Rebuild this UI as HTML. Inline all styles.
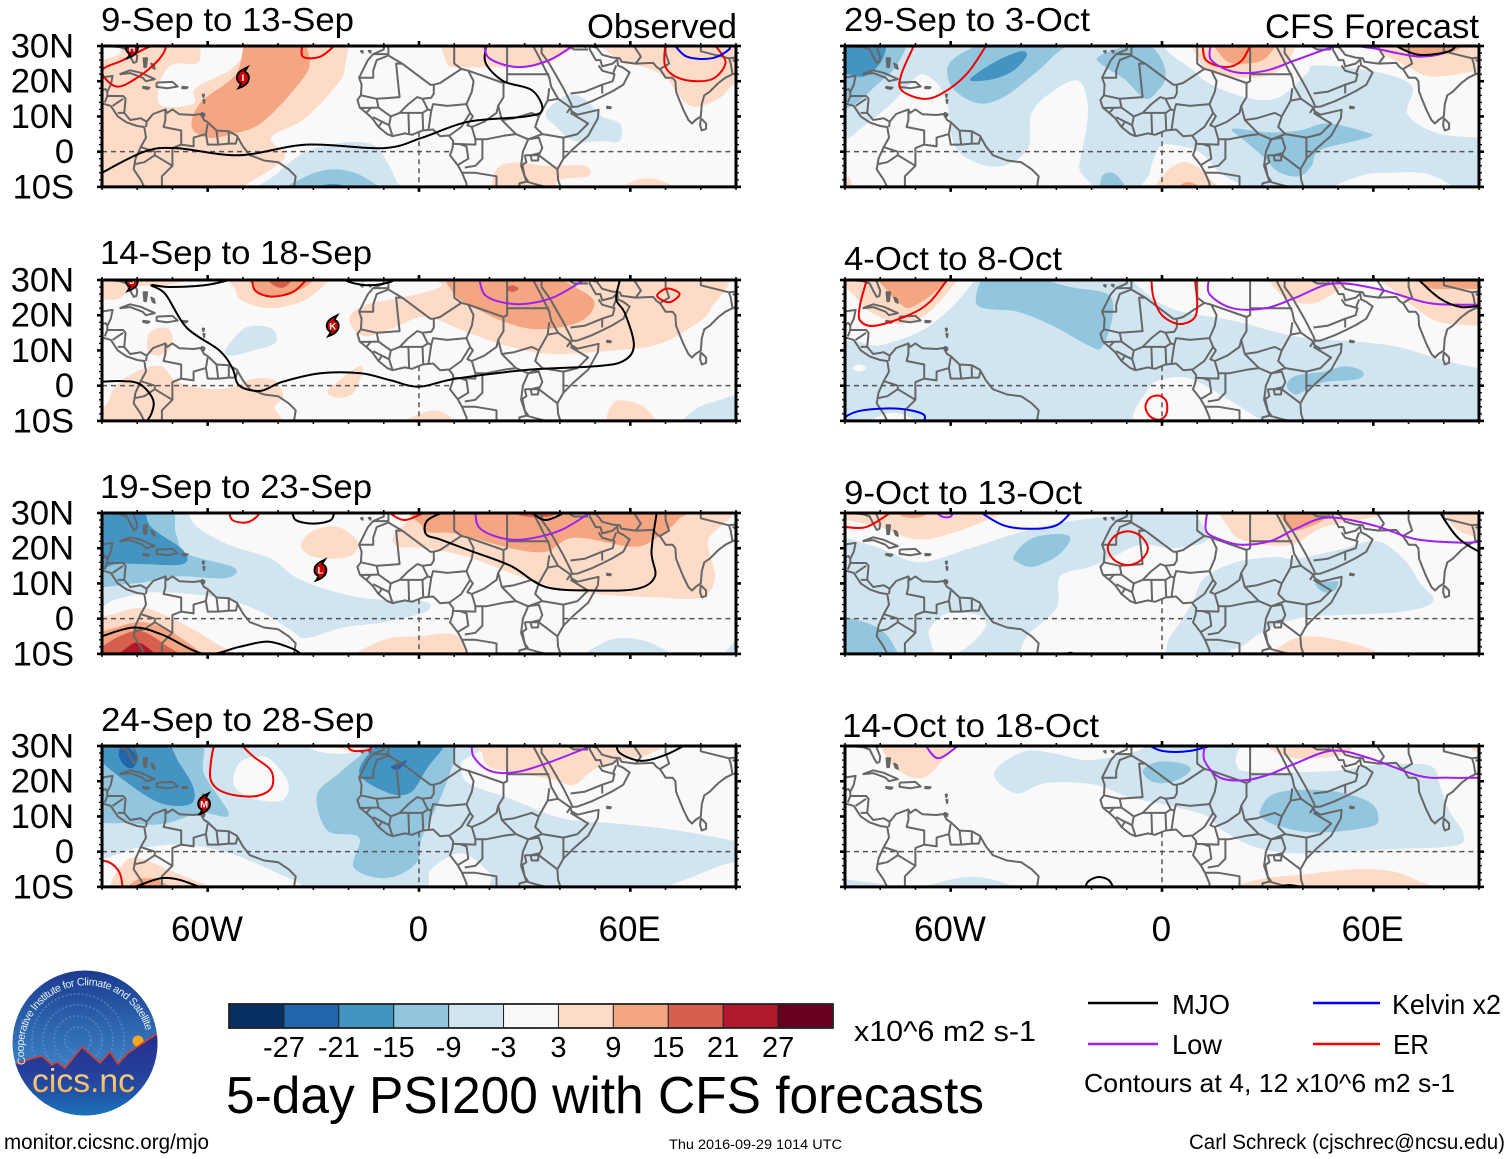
<!DOCTYPE html>
<html lang="en">
<head>
<meta charset="utf-8">
<title>5-day PSI200 with CFS forecasts</title>
<style>
html,body{margin:0;padding:0;background:#fff;width:1510px;height:1159px;overflow:hidden}
svg{display:block}
text{font-family:"Liberation Sans",sans-serif;fill:#000}
</style>
</head>
<body>
<svg id="chart" xmlns="http://www.w3.org/2000/svg" width="1510" height="1159" viewBox="0 0 1510 1159">
  <defs>
    <linearGradient id="logoSky" x1="0" y1="0" x2="0" y2="1">
      <stop offset="0" stop-color="#1c3a8e"/><stop offset="0.35" stop-color="#2c62ad"/><stop offset="0.62" stop-color="#3a7cc0"/>
    </linearGradient>
    <linearGradient id="logoGround" x1="0" y1="0" x2="0" y2="1">
      <stop offset="0" stop-color="#2a2b8e"/><stop offset="0.55" stop-color="#24459e"/><stop offset="1" stop-color="#1b78bd"/>
    </linearGradient>
    <linearGradient id="logoWord" x1="0" y1="0" x2="0" y2="1">
      <stop offset="0" stop-color="#fbe29a"/><stop offset="1" stop-color="#f3a94a"/>
    </linearGradient>
    <clipPath id="logoClip"><circle cx="85" cy="1043" r="72.5"/></clipPath>
    <path id="logoArc" d="M 26 1064 A 62 62 0 1 1 146 1031"/>
  </defs>
  <g id="panels"></g>

  <g id="colorbar"></g>
  <text x="854" y="1041" font-size="29" textLength="182" lengthAdjust="spacingAndGlyphs">x10^6 m2 s-1</text>
  <text x="226" y="1113" font-size="52" textLength="758" lengthAdjust="spacingAndGlyphs">5-day PSI200 with CFS forecasts</text>

  <g>
    <line x1="1088" x2="1158" y1="1003" y2="1003" stroke="#000" stroke-width="2.5"/>
    <text x="1172" y="1014" font-size="28" textLength="58" lengthAdjust="spacingAndGlyphs">MJO</text>
    <line x1="1313" x2="1380" y1="1003" y2="1003" stroke="#0000f0" stroke-width="2.5"/>
    <text x="1392" y="1014" font-size="28" textLength="109" lengthAdjust="spacingAndGlyphs">Kelvin x2</text>
    <line x1="1088" x2="1158" y1="1044" y2="1044" stroke="#a020f0" stroke-width="2.5"/>
    <text x="1172" y="1054" font-size="28" textLength="50" lengthAdjust="spacingAndGlyphs">Low</text>
    <line x1="1313" x2="1380" y1="1044" y2="1044" stroke="#f00000" stroke-width="2.5"/>
    <text x="1393" y="1054" font-size="28" textLength="36" lengthAdjust="spacingAndGlyphs">ER</text>
    <text x="1084" y="1092" font-size="26" textLength="371" lengthAdjust="spacingAndGlyphs">Contours at 4, 12 x10^6 m2 s-1</text>
  </g>

  <g>
    <g clip-path="url(#logoClip)">
      <rect x="12" y="970" width="146" height="146" fill="url(#logoSky)"/>
      <g fill="none" stroke="#7fa3d6" stroke-opacity="0.4" stroke-dasharray="2 2" stroke-width="2">
        <circle cx="78" cy="1040" r="13"/><circle cx="78" cy="1040" r="24"/><circle cx="78" cy="1040" r="35"/><circle cx="78" cy="1040" r="46"/>
      </g>
      <circle cx="138" cy="1041" r="5.5" fill="#f6a81f"/>
      <path d="M 10 1066 L 18 1063 L 37 1057 L 42 1056 L 52 1065 L 57 1062 L 65 1068 L 82 1047 L 100 1063 L 110 1052 L 118 1064 L 128 1053 L 155 1035 L 160 1033 L 160 1120 L 10 1120 Z" fill="url(#logoGround)" stroke="#d8402a" stroke-width="1.6"/>
    </g>
    <text font-size="10.8" style="fill:#e4edf7"><textPath href="#logoArc" textLength="200" lengthAdjust="spacing">Cooperative Institute for Climate and Satellites</textPath></text>
    <text x="32" y="1092" font-size="33" textLength="103" lengthAdjust="spacingAndGlyphs" style="fill:url(#logoWord)">cics.nc</text>
  </g>

  <text x="4" y="1149" font-size="21" textLength="205" lengthAdjust="spacingAndGlyphs">monitor.cicsnc.org/mjo</text>
  <text x="669" y="1149" font-size="14" textLength="173" lengthAdjust="spacingAndGlyphs">Thu 2016-09-29 1014 UTC</text>
  <text x="1189" y="1149" font-size="21" textLength="316" lengthAdjust="spacingAndGlyphs">Carl Schreck (cjschrec@ncsu.edu)</text>
</svg>

<script>
/* ---------- shared chart values ---------- */
const latTicks = [30, 20, 10, 0, -10];
const latTickLabels = ['30N', '20N', '10N', '0', '10S'];
const lonTicks = [-60, 0, 60];
const lonTickLabels = ['60W', '0', '60E'];
const colorbarColors = ['#053061','#2166ac','#4393c3','#92c5de','#d1e5f0','#f9f9f9','#fddbc7','#f4a582','#d6604d','#b2182b','#67001f'];
const colorbarLabels = ['-27','-21','-15','-9','-3','3','9','15','21','27'];
const panelTitles = ['9-Sep to 13-Sep','14-Sep to 18-Sep','19-Sep to 23-Sep','24-Sep to 28-Sep','29-Sep to 3-Oct','4-Oct to 8-Oct','9-Oct to 13-Oct','14-Oct to 18-Oct'];

/* background level of each panel (0 = neutral, -3 = light blue) */
const panelBase = [0, 0, 0, 0, -3, -3, -3, 0];

/* filled PSI200 regions: [level, lon, lat, lon, lat, ...] */
const fills1 = [
  [3, -95,35, -58,35, -24,35, -21,24, -25,17, -33,9, -42,4, -38,-1, -42,-5, -50,-10, -55,-15, -95,-15],
  [0, -73,13, -74,18, -72,23, -69,25, -63,25, -62,29, -62,33, -49,33, -49.5,28, -54,23, -63.5,18, -64,13.6],
  [0, -92,33, -84,33, -85,28, -90,26, -92,26],
  [9, -48,33, -35,33, -31,25, -36,17, -45,8, -53,5, -60,4, -64.5,7, -62,14, -52,22],
  [3, 12,24, 8,25, 10,33, 45,33, 40,27, 32,24, 22,24],
  [3, 57,26, 53,33, 95,33, 95,18, 90,19.5, 85,15, 77,13, 70,21, 64,24],
  [-3, 42,16, 47,15, 52,10, 57,8, 57,3, 52,3, 44,3, 39,7, 36,11],
  [-3, -44,-12, -40,-6, -32,0, -22,2.5, -13,2, -9,-3, -6,-9, -4,-12],
  [-9, -38,-12, -32,-7, -24,-5, -16,-7, -12,-12],
  [-15, -31,-12, -27,-9.5, -22,-9.5, -19,-12],
  [3, 22,-12, 22,-5, 28,-3, 36,-4, 47,-4, 48,-7, 40,-8, 36,-12],
  [3, 56,-12, 62,-8, 68,-8, 74,-12]
];
const fills2 = [
  [3, -19.5,20, -15,23, -5,25, 6,28, 10,33, 82,33, 83,22, 75.5,15.5, 67,11.5, 55.5,10, 38,9, 26,11, 14,15, 2,19.5, -7,16.5, -15,14, -19,16.5],
  [9, 10,33, 10,26, 18,21, 26,17.5, 34,16, 44,17.5, 49,21, 49,25, 41,30, 40,33],
  [15, 24.8,27.5, 26.5,28.5, 28.3,27.5, 26.5,26.6],
  [3, -53,33, -52,27, -50,24, -42.5,22, -33,24, -26.5,29, -25,33],
  [9, -48,33, -46,27, -42,25.5, -36,26.5, -31,29, -30,33],
  [15, -43,33, -42,29, -38,28, -35,33],
  [3, -95,33, -95,26, -86,24.5, -81,28, -72,28.5, -66,30, -66,33],
  [3, -77,10, -76.5,15, -72,16.5, -70,14, -71,10, -74,8.5],
  [3, -88,-12, -88,-4, -85,1, -79,4.5, -73,5.5, -68.5,1, -58,-1, -52,0, -47,2, -41,1.5, -38.5,-3, -41,-6, -42.5,-12],
  [3, -26,-1.5, -22,2, -17,5.5, -16,4, -18,-1, -20,-3, -24,-3.3],
  [3, -4,-12, -3,-9.5, 4,-7, 9,-9, 10,-12],
  [3, 54,-12, 55,-5, 60,-4.5, 65,-7, 67,-12],
  [-3, -55,10, -50,16, -45,17, -41,15.5, -41,12, -47,10, -53,8.5],
  [-3, 75,-12, 78,-7, 84,-4.5, 92,-3, 92,-12],
  [-3, -18,33, -16,29, -13,33]
];
const fills3 = [
  [-3, -95,33, -70,33, -63,26, -54,21, -42,17, -33.5,11, -17,6, 1,5, 2,2, -10,-1, -21.5,-2.5, -32,-5.5, -36,-3.5, -45,2, -57,6, -75,7.5, -86,5.5, -95,3],
  [-9, -95,33, -72,33, -69,24, -66,18.5, -52.5,14.5, -55,11.5, -69,12, -81,10, -95,11],
  [-15, -95,33, -80,33, -76,26, -67,19.5, -67,15.5, -78,15.5, -86,15.5, -95,14],
  [3, -95,-12, -95,-2, -86,1.5, -78,3, -69,-0.5, -58.5,-6.5, -53,-12],
  [9, -95,-12, -95,-6, -86,-2.5, -78,-1, -69,-4.5, -63,-12],
  [15, -95,-12, -90,-8, -85,-5, -79,-3.5, -72,-7.5, -68,-12],
  [21, -86,-12, -82,-7.5, -79,-7, -75,-10, -75,-12],
  [3, -18,-12, -10,-6, 0,-5, 10,-4.5, 14,-10, 14,-12],
  [3, -7,24, 0,30, 5,33, 84,33, 82,22, 84,11.5, 80,6, 68,6, 50,7, 38,9, 26,13, 14,17.5, 2,20, -6,20.5],
  [9, 3,33, 1,26, 3,24.5, 11,24, 26,20, 36,19, 44,23, 60,20.5, 66,22, 73.5,28, 74,33],
  [15, 26,33, 28,29.5, 37,29, 42,33],
  [3, -33.5,21, -30,25, -23,26, -17.5,22, -19,18, -25,17, -31,18],
  [-3, 47,-12, 52,-7, 58,-5.5, 66,-7, 72,-12],
  [-3, 86,-12, 90,-6, 93,-6, 93,-12]
];
const fills4 = [
  [-3, -95,33, 12,33, 12,25, 14,19.5, 26,15, 40.5,9.5, 56,8, 73.5,6, 90,3, 97,2, 97,-8, 90,-3, 74,-8.5, 62,-12, 24,-12, 20,-6, 12,-0.5, 3.5,-5, 0,-12, -26,-12, -36,-8, -47,-3, -57,0.5, -69,2, -80,1, -95,0],
  [0, -33,33, -33,31, -28,28.3, -20,28, -14,31, -14,33],
  [0, -52.5,22, -50,26, -44,27, -40,24, -37,19, -39,14.5, -47,15, -52,18],
  [3, 17,33, 18,28, 20,24, 30,22, 38,20.5, 44,19, 50,23.5, 58,26, 66,28, 70,33],
  [-9, -95,33, -64,33, -61,22, -54,10.5, -62,11, -72,8, -81,8, -95,11],
  [-15, -92,33, -74,33, -68,25, -64,18, -65,13.5, -74,14, -86,22, -92,28],
  [-21, -85,29, -83,30, -80,27, -81,24, -83,24, -85,26.5],
  [-9, -29,16, -26,6, -17,4, -18.5,-4.5, -9.5,-7.5, -1,-3.5, 1,4.5, 6,15, 10,27, 8,33, -9,33, -17,27, -23,22],
  [-15, -17,23, -9.5,17, -2.5,16.7, 2.5,24, 7,30, 5,33, -8,33],
  [-21, -8,24, -6,25, -3.5,26, -4,25, -6,23.3],
  [3, -85,-12, -84,-3.5, -79,-2, -69,-6, -60,-9.5, -50,-12],
  [9, -83,-12, -80,-8, -74,-8, -70,-12],
  [3, -28,33, -28,31, -20,29, -15,31, -15,33]
];
const fills5 = [
  [0, -90,-12, -95,2, -89.5,3.5, -85,7, -77,13.5, -72.7,18, -68.5,22, -64,19.5, -61,14, -59,2, -53,-3, -45,-4, -38,1, -37,11, -30.5,17.5, -23.5,20, -21,11.5, -23.5,-4, -25,-12],
  [0, 7,33, 9.5,22.5, 20,16.5, 32,15, 41,22, 44,24.5, 61.5,22.5, 71,18.5, 69.7,10.7, 78,5.3, 90,4, 97,4, 97,33],
  [0, -4,-12, -3.5,-6, -1,1, 2.5,2, 10.5,0, 16.5,-6, 24,-12],
  [0, 48,-12, 56,-7, 65,-6, 76,-6.5, 82,-12],
  [-9, -61,23, -59,26.5, -53,30, -48,33, -26,33, -31,27, -37,21.5, -45,15.5, -52,13.7, -59,17.5],
  [-15, -54.5,20.5, -47,25.7, -40,28.5, -38.5,27, -42.5,22.8, -48.5,20.5],
  [-9, -95,33, -74,33, -75,25, -81.5,18.5, -88,13, -95,12],
  [-15, -95,33, -80,33, -79,27, -84,21.5, -90,22, -95,21],
  [-9, -18,27, -10,30, -4,30.5, 0,26, 1,21, -1,17.5, -4.7,15, -10.6,20.5, -17,24.7],
  [-9, 20,6.5, 30,5.5, 39,6, 47,8, 58,5.5, 58.5,4, 45,0.5, 42.5,-4, 39,-7, 33,-5.7, 28.3,-1, 23.6,3],
  [-9, -17,-12, -17,-7, -14,-6, -11,-9, -10.5,-12],
  [3, 10,33, 10.6,26, 15,22, 26,21, 32,22.5, 36,26, 36,33],
  [9, 15,33, 18,26, 23.6,25, 29.5,26.6, 32,33],
  [3, 60,33, 61,29, 70,24, 77,21.3, 90,23, 97,24, 97,33],
  [9, 66,33, 70,28, 76,27, 84,29, 86,33],
  [3, -1,-12, 1,-6, 6,-3, 11,-5, 15,-9, 19,-12],
  [9, 4,-12, 6,-9, 9,-9, 12,-12],
  [3, -92,-12, -89,-7, -88,-12],
  [3, -45,-12, -40,-9.7, -36,-12]
];
const fills6 = [
  [0, -95,33, -52,33, -54,29, -60,22, -68.5,15.5, -80,11.5, -86,12.5, -95,15],
  [0, -8,33, -8,29.5, 2.4,22, 20,18.5, 38,14, 55.5,12.5, 67,11, 79,7.5, 90,5, 97,5, 97,33],
  [0, -6,-12, -4,-1, 1,2, 8,2, 16.5,-2.5, 26,-8.5, 30,-12],
  [0, -88,5, -86,6, -84,5, -86,4],
  [0, -85,-12, -80,-8.5, -74,-8, -68,-12],
  [-9, -49,33, -52.5,23, -41,21, -31,17, -21,11.5, -17,11, -14,20, -15.5,26, -26,28, -36,31, -38,33],
  [-9, 35.4,0, 38,2.8, 46,4, 52,5.5, 57,4, 55.5,1.8, 46,1, 41.3,-1, 37.8,-2.5],
  [3, -90,33, -85,23, -80,19.5, -74,17.5, -66,21, -58,30, -56,33],
  [9, -81,33, -78,27, -74,23, -71,22.3, -64,27, -60,33],
  [3, 30,33, 31,29, 35.4,24.7, 42.5,23.3, 48.4,26, 54,30, 57,33],
  [3, 61,33, 66,27, 73,21.3, 79,18, 90,17, 97,17, 97,33],
  [9, 72,33, 75,28, 84,27.5, 92,28, 92,33]
];
const fills7 = [
  [0, 9,33, 97,33, 97,-12, 22,-12, 24,-7, 32,-2, 41,0.5, 50,1, 68.5,2, 77,5, 73,10.5, 68.5,17, 61,22, 50,19.5, 38,17, 32,17.5, 21,16, 12,11.5, 8.3,4, 2.4,-5, -3.5,-12, -36,-12, -39,-6, -30,3, -29,12, -21,14.5, -15,17, -6,21, 3.5,20, 13,22.5, 9.4,30],
  [0, -95,33, -5,33, -9,30, -27,27.5, -42,24, -56,19.5, -69,16, -80,20, -90,23, -95,24],
  [0, -66,-3, -61,1.5, -52,1, -50,-2, -54,-7, -59,-10, -64,-10, -65.5,-7],
  [-9, -42,18, -37.5,22.5, -31,24, -26,23, -29.5,18, -36.6,14.7, -41,16],
  [-9, -95,-12, -95,0, -88,0, -80,-3, -76,-8, -76,-12],
  [-9, 43.7,10.5, 47,10.5, 50,10.5, 49,8, 46,7.5, 44,9],
  [3, -95,33, -93,29, -80,26, -69.5,22.5, -59,24.5, -45,30, -42,33],
  [9, -75,33, -74,29.2, -68,29, -65,33],
  [3, 20,33, 19.5,25, 25,21.7, 36.6,21, 46,26, 62.5,29.5, 64,33],
  [9, 34,33, 35,27, 38,25, 44,27, 47,29, 52,33],
  [3, 81,33, 83,26, 90,23, 97,23, 97,33],
  [3, 32,-12, 35,-7, 42,-5, 52,-6.5, 60,-9, 64,-12]
];
const fills8 = [
  [-3, -46.6,24, -39,28.5, -31,28, -21,26, -9,28, -4.7,30, -5,33, 20,33, 21,25, 26,22.6, 49.6,23, 59,24.5, 75.7,24.5, 79,18.5, 81.5,11.7, 85.6,5, 82.6,1.6, 61.4,0.6, 38,-0.5, 26,1.5, 16.5,6.5, 13,10, 2.4,13, -9.4,15.5, -19,19, -33,19.5, -41,16.5, -47,20.3],
  [-9, -5.5,23, -1,25.5, 6,25, 8,23, 3.5,20, -2.4,19.7],
  [-9, 28,12, 31,16, 38,17.5, 49.6,17, 59,14, 61.4,9.7, 59,7, 43.7,5.4, 33,7.3, 28.3,9.7],
  [3, -82,33, -80,30, -76.6,24.5, -70.7,21, -66,22, -60,29, -58,33],
  [3, 29.5,33, 30,30, 35,27, 43,26.5, 52,28, 55,33],
  [3, 88,33, 88,29, 93,28, 93,33],
  [-3, -95,-12, -95,-7.5, -85,-8.5, -70,-10, -58,-7.5, -50,-7.5, -41,-10.3, -40,-12],
  [3, 21,-12, 27,-8, 40,-6.5, 55,-5, 65,-5.5, 72,-8, 76,-12]
];
const panelFills = [fills1, fills2, fills3, fills4, fills5, fills6, fills7, fills8];

/* wave contours: [kind, closed (1/0), lon, lat, ...] */
const waves1 = [
  ['mjo',0, -92,-7.5, -90,-6, -78,0, -69,1, -51,-1, -32,2, -10,1, 1,4, 14,8.5, 30.5,10, 35,12, 32,17.5, 24,20, 19,25, 19,30, 19,33],
  ['er',1, -90,23, -86,18.5, -80,21, -74,26, -72,30, -76,30, -84,26],
  ['er',0, -33,31, -33,27, -28,27, -23,31],
  ['er',0, 70,31, 70,24, 75,20.5, 83,20.5, 87,25, 85,29, 83,31],
  ['kelvin',0, 72,31, 76,27, 83,26.5, 88,29, 88,31],
  ['low',0, 18.5,31, 20,26.5, 28,24, 37,26, 45,31]
];
const waves2 = [
  ['mjo',0, -52,31, -54,30, -61,28.5, -71,28, -76,28.5, -72,26, -66,16.5, -56.7,10, -53,5, -51,0, -45,-1.5, -39,1, -28,3.5, -16.5,3.5, -8,1.5, 0,-0.3, 10.5,2, 31,4.5, 50,5.5, 58,7, 61,11.5, 58.5,20.5, 56,24.5, 57,30, 57,32],
  ['mjo',0, -22,31, -20,29.5, -14,28.5, -8,29.5, -6,31],
  ['mjo',0, -92,1, -84,1.3, -79,0.3, -75.5,-4, -76,-8, -78,-11],
  ['er',0, -47.5,31, -46.5,27, -42,25.3, -36,26.5, -32,30, -31,31],
  ['er',1, 67.6,25.5, 70.5,27.6, 74,26, 71,23.7],
  ['low',0, 17,31, 18.5,26, 23,23.8, 30,23.2, 38,25, 46,29.5, 48,31]
];
const waves3 = [
  ['mjo',0, 9,31, 2.5,28, 2,24, 6,22.5, 14,19.5, 26,15, 36,9, 50,8, 62,8.5, 67,12, 66,19, 67.5,30, 68,32],
  ['mjo',0, -36,31, -35,28, -30,27, -25,28, -24,31],
  ['mjo',0, 31,31, 36,28, 43,31],
  ['mjo',0, -92,-6, -90,-5, -81,-2.5, -73,-4.5, -61,-10, -51,-8, -43,-6.5, -36,-8.5, -33,-10.5, -32,-12],
  ['er',0, -54,31, -53,28, -49,27.3, -46,29, -45,31],
  ['er',0, -9,30.5, -4,28, 3,31],
  ['low',0, 16,31, 17,26, 23,23, 30,22.5, 40,25, 48.5,30, 50,31]
];
const waves4 = [
  ['er',0, -58,31, -59,26, -59,20, -55,16.7, -47,15.7, -42,18, -42,23, -47,27, -50,30, -50,31],
  ['er',0, -92,-2.3, -88,-3, -85,-6, -84,-11],
  ['er',0, -21,31, -19,28.7, -14,29, -13,31],
  ['mjo',0, -83,-11, -78,-9, -73,-7.5, -68,-8, -61,-10.5],
  ['mjo',0, 56,31, 57,28, 63,25.8, 70,27.5, 77,31],
  ['low',0, 15,31, 15.5,27, 20,23, 27,22.5, 36,25, 49,30, 52,31]
];
const waves5 = [
  ['er',0, -70.5,31, -70.5,30, -74,22, -74,17.5, -68,15, -62.5,16.5, -55.5,22, -50,30, -49.5,31],
  ['er',0, 11.5,31, 12.5,26, 18,24, 22.5,25.7, 25,30, 25.5,31],
  ['low',0, 14,31, 14,26, 21,22.5, 29.5,23, 38,26, 50,30, 59,29.5, 73,27, 81.5,28.5, 84,31],
  ['mjo',0, 66,31, 66.5,30, 73,27.5, 81.5,28.5, 84,31]
];
const waves6 = [
  ['er',0, -84,31, -84,29.5, -85.7,23, -85.7,18.5, -81.5,17, -72,20, -66,23.7, -61,30, -60,31],
  ['er',0, -3,31, -3,30, -2.4,25, 0,20, 4.7,17.5, 9,19, 10,23, 9.4,30, 9.4,31],
  ['er',1, -4.7,-6, -3.5,-3.5, -1,-2.8, 1,-4, 1.5,-6.2, 1,-8.5, -1,-9.7, -3.5,-8.6],
  ['kelvin',0, -90,-11, -90,-9, -85,-7, -75,-6.5, -68,-8, -67.5,-10, -68,-11],
  ['low',0, 13.5,31, 13.5,26, 20,22, 29.5,22, 38,25, 48.4,29, 61,27.5, 75.5,23.5, 85,23, 92,23],
  ['mjo',0, 73,31, 73,30, 79,24.7, 85,22.3, 92,23]
];
const waves7 = [
  ['er',0, -92,27, -89.5,26, -84,26, -78,29.5, -77,31],
  ['er',1, -15.4,20, -13.5,23.4, -9.7,24.8, -6,23.4, -4,20, -6,16.6, -9.7,15.2, -13.5,16.6],
  ['low',0, -65,31, -62.5,29, -60,29, -59,31],
  ['kelvin',0, -52,30.5, -45,26.5, -37,25.5, -30,26.5, -26,30, -25.5,31],
  ['low',0, 13,31, 12.5,25, 16.5,22.5, 22.5,21, 30.7,22, 38,25.5, 47,28.7, 60,26.5, 72,22.6, 85,21.6, 92,22],
  ['mjo',0, 79,31, 79,30, 84,23, 90,19, 93,18],
  ['mjo',0, -28,-10.5, -26,-9.7, -24,-10.5]
];
const waves8 = [
  ['low',0, -67,31, -67,30, -63.5,26.5, -58,30, -57,31],
  ['kelvin',0, -5,31, 0,28.6, 8,28.6, 17,31],
  ['low',0, 12.4,31, 12,26, 16.5,21, 23.6,20.3, 30.7,22, 37.8,25, 48.4,28.7, 59,26.5, 73,21.5, 81.5,21, 92,21],
  ['mjo',0, -22,-11, -21,-8.5, -18,-7.2, -15,-8.2, -13.5,-11],
  ['mjo',0, 31,-11, 36,-9.5, 44,-11]
];
const panelWaves = [waves1, waves2, waves3, waves4, waves5, waves6, waves7, waves8];

/* tropical cyclones: [letter, lon, lat] per panel */
const panelStorms = [
  [['H',-81.5,29.5], ['I',-50,21]],
  [['J',-81.5,29.8], ['K',-24.5,17]],
  [['L',-28,13.8]],
  [['M',-61,13.6]],
  [], [], [], []
];

/* map outlines in lon/lat */
const coastlines = [
  [-92,29.5,-89,30,-85,29.7,-83,29,-82,27,-81,25.2,-80.2,25.5,-80,27,-81,29.5,-81.5,31],
  [-92,18.5,-90.5,19.5,-90.3,21,-87,21.5,-87.5,19,-88.5,17,-88.5,15.8,-84,15.8,-83.3,15,-83.7,11,-82,9,-80,9.3,-79,9.5,-77.3,8.5,-75.5,10.7,-72,12,-71.5,11,-70,12,-68,10.6,-64,10.4,-62,10.7,-61,9,-60,8.4,-57.5,6,-54,5.8,-51.7,4.5,-50,1.5,-48,-1,-44,-2.5,-40,-3,-37,-5,-35,-7,-35.5,-10,-36,-11],
  [-94,16,-91,14,-87.5,13,-85.5,10,-83,8.3,-80,7.3,-78,7,-77.5,4,-79,1.3,-80.5,-2,-81,-5,-79,-8,-77.5,-11],
  [-10,31,-10,29,-13,27.7,-14.5,26,-17,21,-16.3,19,-16.5,16,-17.5,14.7,-16.8,12.5,-15,11,-13.3,9.5,-11.5,7,-9,5,-7.5,4.4,-4,5.2,-2,4.8,1,6,4,6.3,6,4.4,8.5,4.6,9.7,3,9.5,1,8.8,-1,11,-3.8,12.2,-6,13.5,-9,13.5,-11],
  [32.5,31,32.5,29.8,34,27,35.5,24,37,21,37.5,18.5,39.5,15,43,12.5,43.3,11.5,45,10.5,51,11.9,50.8,9.5,48,4.5,44,1,41,-2,39.3,-5,39.5,-8,40.5,-11],
  [34.8,31,34.8,28,37,25,39,21.5,41,18,43,14,43.5,12.7,45,12.8,49,14.3,52,15.7,55,17.2,58,19,59.8,22.5,58,23.8,56.5,24.5,56.3,26.2,55,25,52,24.2,51.5,26,50.2,26,48.5,29,48.5,31],
  [48.5,30,50.5,29.5,52,27.5,55,26.7,57,26.5,57.5,25.5,61.5,25,66.5,25.2,67.5,24,68.5,23.3,70,21,72,21,72.8,20,73,17,74,14.5,75,12,76.5,9,77.5,8,78.5,9,80,10,80.3,13.5,81,16,82.5,17,85,19.5,87,21,89,22,91,22.5],
  [80,9.5,81.5,8,81.5,6.5,80.3,6,79.8,7.5,80,9.5],
  [31.7,-1,34,-0.5,33.8,-2.5,32,-2.5,31.7,-1],
  [-85,22,-82,23.1,-79,22.4,-75,20.6,-77.5,20,-78.5,21,-82,22.3,-85,22],
  [-74.5,19.6,-70,19.8,-68.5,18.5,-71.5,18,-74.5,18.4,-74.5,19.6]
];
const islands = [
  [-78.3,18.4,-76.5,18.2,-77,17.8,-78.3,18.1,-78.3,18.4],
  [-67.2,18.4,-65.7,18.3,-66,18,-67.2,18,-67.2,18.4],
  [-78.2,26.5,-77.2,26.5,-77.5,24,-78,24,-78.2,26.5],
  [-76,25,-75.3,24.6,-75,23.5,-75.6,23.8,-76,25],
  [-61.4,16.2,-61,16.2,-61.2,15.5,-61.4,16.2],
  [-61.2,14.7,-60.9,14.7,-61,13.8,-61.2,14.7],
  [-61.6,11,-60.9,10.7,-61,10.1,-61.7,10.2,-61.6,11],
  [-16.5,28.5,-16,28.6,-16,28.1,-16.5,28.5],
  [-14.3,28.6,-13.7,28.6,-13.8,28.1,-14.3,28.6],
  [53.4,12.8,54.5,12.6,54.3,12.3,53.4,12.4,53.4,12.8]
];
const borders = [
  [-92,15,-91,17,-89,17.8,-88.5,17],[-89.2,14,-88.5,15.8],[-87,13,-84,15],[-85.5,11,-83.7,11],[-77.3,8.5,-77.5,7],
  [-72,12,-72,9,-72.5,7,-67.5,6,-67.5,2,-70,1,-70,-4],[-67.5,2,-64,1.5,-64,4,-60.5,5,-60,8],
  [-60.5,5,-60,2,-57,2,-57.5,6],[-57,2,-54,2.3,-54,5.5],[-54,2.3,-52,2.3,-51.5,4.2],
  [-79,1.3,-75,0,-75,-1,-70,-4,-73,-7,-73,-10,-70,-11],[-80.5,-3.5,-78,-3,-75,-1],
  [-13,27.7,-8.7,27.7,-8.7,31],
  [-17,21,-13,21,-13,23,-12,26,-8.7,27.3,-4.8,25,-6.5,25,-5.5,15.5,-12,15,-16.5,16],
  [-4.8,25,3.2,19,4.2,19,4.2,16.5,3.5,15.3,1,15,-0.5,15.5,-3,13.5,-5.5,11,-8,10,-8.5,7.5,-7.5,4.4],
  [-12,15,-11.5,12.5,-8,10],[-16.7,12.4,-11.5,12.5],[-15,11,-13.7,12.4],[-13,9.8,-10.5,8.5,-11.5,7],[-10.5,8.5,-8.5,7.5],
  [-5.5,11,-3,11,1,11,2.5,12,3.5,11.7,2.7,6.3],[-3,11,-2.8,5],[1,11,1.2,6.2],[1,15,2.5,12],
  [4.2,19,6,19.5,12,23.5,14,23,24,19.5,25,20,25,31],[12,23.5,10,25,10,31],[25,22,37,22],
  [3.5,11.7,4,13.5,8,13,13.5,13.5,14.5,11,12,7,8.7,4.6],[14,23,15.5,20,15,17,13.5,13.5],
  [14.5,11,15.3,10,13.7,7.5,15,7,16,3.5,16,2,9.8,2.2],
  [24,19.5,24,15.5,22.5,13,23.5,9,27.5,5,31,3.5,29.5,0,29,-4,30.5,-8.5,28.5,-9,28.5,-11],
  [15,7,18.5,8.5,22,11,22.5,13],[16,3.5,19,3.5,24,4.5,27.5,5],[11.5,2.2,13.5,1.5,14,-2,11,-3.8],
  [13,-4.5,16,-4,18,-2,18,3.5],[12.2,-6,16,-6,22,-7,22,-11],
  [23.5,9,27,9.5,32,11,34,10,33,7,35,5,31,3.5],[37,18,36.5,14.5,34,10],[35,5,41,4,41,-2],
  [31,3.5,34,4,35,1,34,-1,30,-1],[34,-1,39.3,-5],[30.5,-8.5,34,-9.5,40.5,-11],[29,-4,30.5,-3,30,-1],
  [39.5,15,36.5,14.5],[42,11,43,12.5],[41,4,45,5,48,8,43,11],[29.3,-3.5,30,-7,31,-8.5],
  [39,32,44,29,48,29],[43,16.5,47,17,52,19,55,20,55.5,22,52,23,51,24.5],[52,16.5,52,19],[56,24.5,55,22],[48.5,31,47,29.5],
  [61.5,25,63,27,61,30,61,32],[70,32,70,28,71,25,68.5,23.5],[80,31,80,28.5,84,27.5,88,26.5,92,27],[88,26.5,88.5,25,89,22],[89,26,92,25,92,21],[65,32,61,30],[71,32,70,30],[78,32,79,30.5,80,30.5]
];

/* ---------- layout constants ---------- */
const SVGNS = 'http://www.w3.org/2000/svg';
const PANEL_W = 634, DEG = 3.5222, PANEL_H = 40 * DEG;
const panelLefts = [102, 102, 102, 102, 845, 845, 845, 845];
const panelTops = [46, 280, 513, 746, 46, 280, 513, 746];
const titleBaselines = [31, 264, 498, 731, 31, 270, 504, 737];
const titleStarts = [101, 100, 100, 101, 844, 844, 844, 842];
const titleWidths = [253, 272, 272, 273, 246, 218, 238, 257];
const levelColors = {'0':'#f9f9f9','3':'#fddbc7','9':'#f4a582','15':'#d6604d','21':'#b2182b','-3':'#d1e5f0','-9':'#92c5de','-15':'#4393c3','-21':'#2166ac'};
const waveColors = {mjo:'#000000', er:'#f00000', low:'#a020f0', kelvin:'#0000f0'};

function make(tag, attrs, parent) {
  const el = document.createElementNS(SVGNS, tag);
  for (const k in attrs) el.setAttribute(k, attrs[k]);
  if (parent) parent.appendChild(el);
  return el;
}
function pairs(flat, start) {
  const out = [];
  for (let i = start; i + 1 < flat.length; i += 2) out.push([flat[i], flat[i + 1]]);
  return out;
}
function smoothPath(pts, closed) {
  const n = pts.length;
  const at = i => closed ? pts[(i + n) % n] : pts[Math.max(0, Math.min(n - 1, i))];
  let d = 'M' + pts[0][0].toFixed(1) + ' ' + pts[0][1].toFixed(1);
  const last = closed ? n : n - 1;
  for (let i = 0; i < last; i++) {
    const p0 = at(i - 1), p1 = at(i), p2 = at(i + 1), p3 = at(i + 2);
    d += 'C' + (p1[0] + (p2[0] - p0[0]) / 6).toFixed(1) + ' ' + (p1[1] + (p2[1] - p0[1]) / 6).toFixed(1) + ' '
      + (p2[0] - (p3[0] - p1[0]) / 6).toFixed(1) + ' ' + (p2[1] - (p3[1] - p1[1]) / 6).toFixed(1) + ' '
      + p2[0].toFixed(1) + ' ' + p2[1].toFixed(1);
  }
  return d + (closed ? 'Z' : '');
}

const svg = document.getElementById('chart');
const root = document.getElementById('panels');
const defs = svg.querySelector('defs');

panelTitles.forEach(function (title, p) {
  const left = panelLefts[p], top = panelTops[p];
  const xScale = lon => left + (lon + 90) * DEG;
  const yScale = lat => top + (30 - lat) * DEG;
  const toPx = pt => [xScale(pt[0]), yScale(pt[1])];

  const clip = make('clipPath', {id: 'clip' + p}, defs);
  make('rect', {x: left, y: top, width: PANEL_W, height: PANEL_H}, clip);

  const g = make('g', {}, root);
  
  

  const plot = make('g', {'clip-path': 'url(#clip' + p + ')'}, g);
  
  

  const bg = make('rect', {x: left, y: top, width: PANEL_W, height: PANEL_H, fill: levelColors[panelBase[p]]}, plot);
  
  

  panelFills[p].forEach(function (shape) {
    const path = make('path', {d: smoothPath(pairs(shape, 1).map(toPx), true), fill: levelColors[shape[0]]}, plot);
    
    
  });

  /* coastlines + borders */
  const map = make('g', {fill: 'none', stroke: '#666666', 'stroke-width': 2, 'stroke-linejoin': 'round'}, plot);
  
  
  coastlines.concat(borders).forEach(function (line) {
    const seg = make('polyline', {points: pairs(line, 0).map(toPx).map(q => q[0].toFixed(1) + ',' + q[1].toFixed(1)).join(' ')}, map);
    
    
  });
  islands.forEach(function (line) {
    const isle = make('polygon', {points: pairs(line, 0).map(toPx).map(q => q[0].toFixed(1) + ',' + q[1].toFixed(1)).join(' '), fill: '#666666'}, map);
    
    
  });

  /* reference lines */
  const dash = {stroke: '#555555', 'stroke-width': 1.5, 'stroke-dasharray': '5 4'};
  const eqWest = make('line', Object.assign({x1: xScale(-90), x2: xScale(9), y1: yScale(0), y2: yScale(0)}, dash), plot);
  
  
  const eqEast = make('line', Object.assign({x1: xScale(41), x2: xScale(90), y1: yScale(0), y2: yScale(0)}, dash), plot);
  
  
  const prime = make('line', Object.assign({x1: xScale(0), x2: xScale(0), y1: yScale(5.5), y2: yScale(-10)}, dash), plot);
  
  

  /* wave contours */
  panelWaves[p].forEach(function (w) {
    const path = make('path', {d: smoothPath(pairs(w, 2).map(toPx), !!w[1]), fill: 'none', stroke: waveColors[w[0]], 'stroke-width': 2, 'stroke-linejoin': 'round'}, plot);
    
    
  });

  /* cyclones */
  panelStorms[p].forEach(function (s) {
    const x = xScale(s[1]), y = yScale(s[2]);
    const st = make('g', {transform: 'translate(' + x.toFixed(1) + ' ' + y.toFixed(1) + ')'}, plot);
    
    
    const body = make('path', {d: 'M4.5 -10.5 C0.5 -8.5 -6 -6 -6 0 C-6 3.5 -3.5 5.5 -2 6 C-2.5 7.5 -3.5 9 -4.5 10.5 C0 9 6 6 6 0 C6 -3.5 3.5 -5.5 2 -6 C2.5 -7.5 3.5 -9 4.5 -10.5Z', fill: '#cc0000', stroke: '#000', 'stroke-width': 1.8}, st);
    
    
    const label = make('text', {x: 0, y: 3.5, 'font-size': 9.5, 'font-weight': 'bold', 'text-anchor': 'middle', style: 'fill:#fff'}, st);
    
    
    label.textContent = s[0];
  });

  /* ticks */
  const ticks = make('g', {stroke: '#000'}, g);
  
  
  for (let lon = -90; lon <= 90; lon += 10) {
    const major = lonTicks.indexOf(lon) >= 0;
    const len = major ? 5 : 3;
    [[top, top - len], [top + PANEL_H, top + PANEL_H + len]].forEach(function (yy) {
      const t = make('line', {x1: xScale(lon), x2: xScale(lon), y1: yy[0], y2: yy[1], 'stroke-width': major ? 2.6 : 1.6}, ticks);
      
      
    });
  }
  for (let lat = -10; lat <= 30; lat += 2) {
    const major = lat % 10 === 0;
    const len = major ? 5 : 3;
    [[left, left - len], [left + PANEL_W, left + PANEL_W + len]].forEach(function (xx) {
      const t = make('line', {x1: xx[0], x2: xx[1], y1: yScale(lat), y2: yScale(lat), 'stroke-width': major ? 2.6 : 1.3}, ticks);
      
      
    });
  }

  const frame = make('rect', {x: left, y: top, width: PANEL_W, height: PANEL_H, fill: 'none', stroke: '#000', 'stroke-width': 3}, g);
  
  

  const ttl = make('text', {x: titleStarts[p], y: titleBaselines[p], 'font-size': 33, textLength: titleWidths[p], lengthAdjust: 'spacingAndGlyphs'}, g);
  
  
  ttl.textContent = title;

  if (p < 4) {
    latTicks.forEach(function (lat, i) {
      const lab = make('text', {x: 74, y: yScale(lat) + 11.5, 'font-size': 34.5, 'text-anchor': 'end'}, g);
      
      
      lab.textContent = latTickLabels[i];
    });
  }
  if (p === 3 || p === 7) {
    lonTicks.forEach(function (lon, i) {
      const lab = make('text', {x: xScale(lon) - 0.7, y: 941, 'font-size': 35, 'text-anchor': 'middle'}, g);
      
      
      lab.textContent = lonTickLabels[i];
    });
  }
  if (p === 0) {
    const obs = make('text', {x: 587, y: 38, 'font-size': 34, textLength: 150, lengthAdjust: 'spacingAndGlyphs'}, g);
    
    
    obs.textContent = 'Observed';
  }
  if (p === 4) {
    const fc = make('text', {x: 1265, y: 38, 'font-size': 34, textLength: 214, lengthAdjust: 'spacingAndGlyphs'}, g);
    
    
    fc.textContent = 'CFS Forecast';
  }
});

/* colorbar */
const cb = document.getElementById('colorbar');
const CB_X = 229, CB_Y = 1004, CB_W = 604, CB_H = 24;
const cbStep = CB_W / colorbarColors.length;
colorbarColors.forEach(function (c, i) {
  const box = make('rect', {x: CB_X + i * cbStep, y: CB_Y, width: cbStep, height: CB_H, fill: c, stroke: '#222', 'stroke-width': 1}, cb);
  
  
});
const cbFrame = make('rect', {x: CB_X, y: CB_Y, width: CB_W, height: CB_H, fill: 'none', stroke: '#222', 'stroke-width': 1.8}, cb);


colorbarLabels.forEach(function (t, i) {
  const lab = make('text', {x: CB_X + (i + 1) * cbStep, y: 1057, 'font-size': 29, 'text-anchor': 'middle'}, cb);
  
  
  lab.textContent = t;
});
</script>
</body>
</html>
